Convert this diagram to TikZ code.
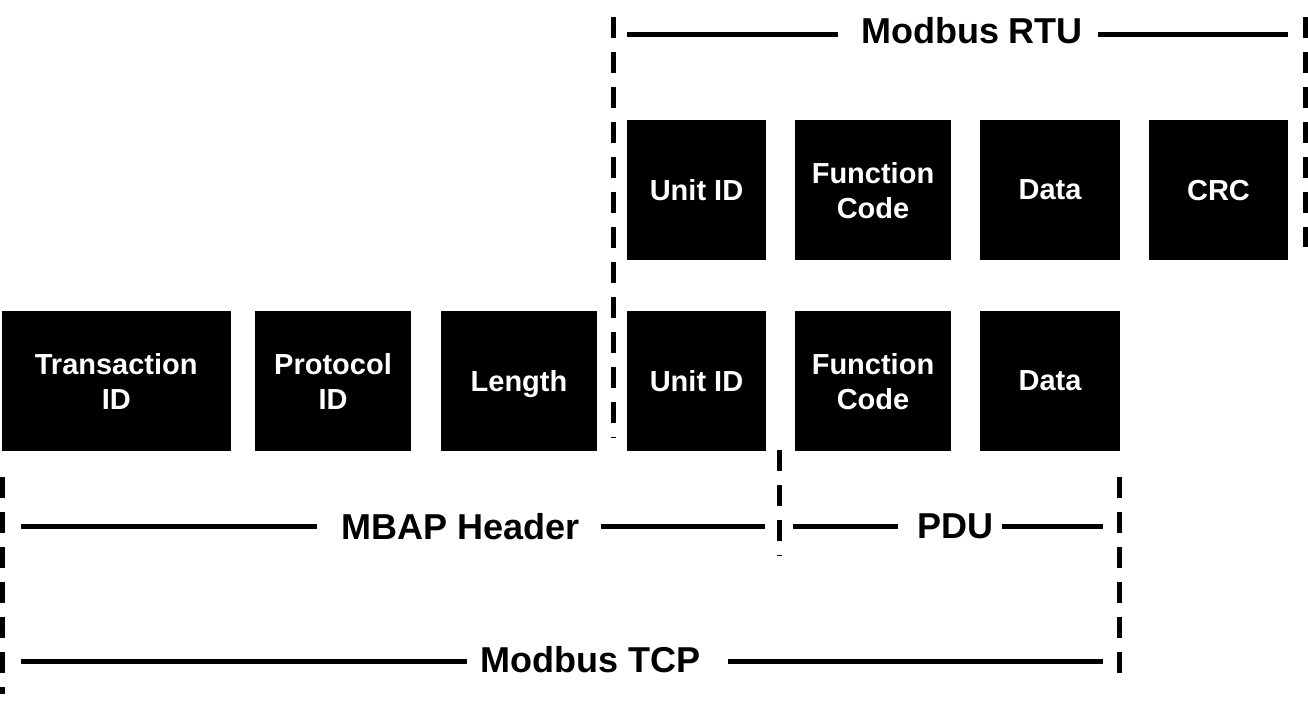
\documentclass[tikz,border=0pt]{standalone}
\usepackage{fontspec}
\setmainfont{Liberation Sans}
\begin{document}
\begin{tikzpicture}[x=1pt,y=-1pt,
  box/.style={fill=black,text=white,inner sep=0pt,minimum height=140pt,align=center,
    font=\fontsize{29}{35}\selectfont\bfseries,text depth=0pt},
  lbl/.style={anchor=base,inner sep=0pt,font=\fontsize{36}{43}\selectfont\bfseries},
  bar/.style={line width=5pt},
  dashln/.style={line width=5pt,dash pattern=on 21pt off 14pt}]
\useasboundingbox (0,0) rectangle (1308,708);
% row 1 (Modbus RTU)
\node[box,minimum width=139pt] (ru) at (696.5,190) {Unit ID};
\node[box,minimum width=156pt] (rf) at (873,190) {Function\\Code};
\node[box,minimum width=140pt] (rd) at (1050,190) {Data};
\node[box,minimum width=139pt] (rc) at (1218.5,190) {CRC};
% row 2 (Modbus TCP)
\node[box,minimum width=229.5pt] (tt) at (116.25,381) {Transaction\\ID};
\node[box,minimum width=156pt] (tp) at (333,381) {Protocol\\ID};
\node[box,minimum width=156pt] (tl) at (519,381) {Length};
\node[box,minimum width=139pt] (tu) at (696.5,381) {Unit ID};
\node[box,minimum width=156pt] (tf) at (873,381) {Function\\Code};
\node[box,minimum width=140pt] (td) at (1050,381) {Data};
% labels
\node[lbl] (lrtu) at (972,43.3) {Modbus RTU};
\node[lbl] (lmbap) at (460.4,539.3) {MBAP Header};
\node[lbl] (lpdu) at (955.9,538.5) {PDU};
\node[lbl] (ltcp) at (590.8,672.7) {Modbus TCP};
% bracket lines
\coordinate (r1) at (627,35);   \coordinate (r2) at (838,35);
\coordinate (r3) at (1098,35);  \coordinate (r4) at (1288,35);
\coordinate (m1) at (21,526.5); \coordinate (m2) at (317,526.5);
\coordinate (m3) at (601,526.5);\coordinate (m4) at (765,526.5);
\coordinate (p1) at (793,526.5);\coordinate (p2) at (898,526.5);
\coordinate (p3) at (1002,526.5);\coordinate (p4) at (1103,526.5);
\coordinate (c1) at (21,661);   \coordinate (c2) at (467,661);
\coordinate (c3) at (728,661);  \coordinate (c4) at (1103,661);
\draw[bar] (r1) -- (r2) (r3) -- (r4);
\draw[bar] (m1) -- (m2) (m3) -- (m4);
\draw[bar] (p1) -- (p2) (p3) -- (p4);
\draw[bar] (c1) -- (c2) (c3) -- (c4);
% dashed separators
\coordinate (dl1) at (2.5,477);    \coordinate (dl2) at (2.5,694);
\coordinate (dr1) at (1119.5,477); \coordinate (dr2) at (1119.5,673);
\coordinate (dp1) at (779.5,450);  \coordinate (dp2) at (779.5,556);
\coordinate (du1) at (613.5,16.7); \coordinate (du2) at (613.5,438);
\coordinate (dv1) at (1305.5,17);  \coordinate (dv2) at (1305.5,247);
\draw[dashln] (dl1) -- (dl2);
\draw[dashln] (dr1) -- (dr2);
\draw[dashln] (dp1) -- (dp2);
\draw[dashln] (du1) -- (du2);
\draw[dashln] (dv1) -- (dv2);
\end{tikzpicture}
\end{document}
